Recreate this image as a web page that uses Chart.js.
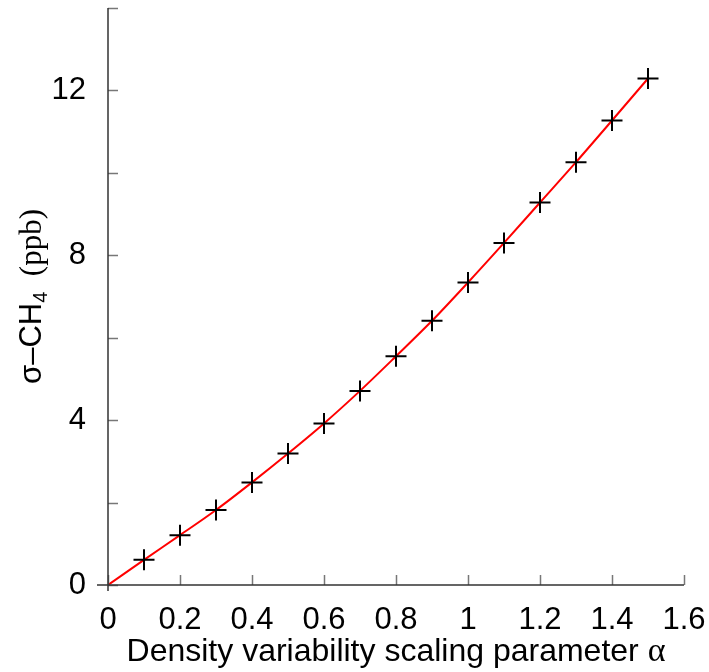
<!DOCTYPE html>
<html>
<head>
<meta charset="utf-8">
<script src="https://cdn.jsdelivr.net/npm/chart.js@4.4.1/dist/chart.umd.min.js"></script>
<style>
  html, body { margin: 0; padding: 0; background: #fff; }
  #wrap { width: 709px; height: 672px; }
</style>
</head>
<body>
<div id="wrap"><canvas id="sigmaChart" width="709" height="672"></canvas></div>
<script>
// density variability scaling parameter (x) and sigma-CH4 in ppb (y)
const alphaVals = [0.1, 0.2, 0.3, 0.4, 0.5, 0.6, 0.7, 0.8, 0.9, 1.0, 1.1, 1.2, 1.3, 1.4, 1.5];
const sigmaCH4 = [0.61, 1.21, 1.82, 2.49, 3.19, 3.92, 4.71, 5.55, 6.41, 7.34, 8.30, 9.28, 10.26, 11.27, 12.29];
// red curve, starts at the origin
const fitAlpha = [0, 0.1, 0.2, 0.3, 0.4, 0.5, 0.6, 0.7, 0.8, 0.9, 1.0, 1.1, 1.2, 1.3, 1.4, 1.5];
const fitSigma = [0, 0.61, 1.21, 1.82, 2.49, 3.19, 3.92, 4.71, 5.55, 6.41, 7.34, 8.30, 9.28, 10.26, 11.27, 12.29];
const xTicks = { min: 0, max: 1.6, step: 0.2 };
const yTicks = { min: 0, max: 14, step: 2, labelEvery: 4 };

const SANS = '"Liberation Sans", Arial, sans-serif';
const SERIF = '"Liberation Serif", "Times New Roman", serif';

// axes with inward ticks + the two axis titles
const axesPlugin = {
    id: 'axesPlugin',
    afterDraw(chart) {
        const ctx = chart.ctx; const a = chart.chartArea;
        const xs = chart.scales.x; const ys = chart.scales.y;
        ctx.save();
        ctx.lineCap = 'butt';
        // ticks
        ctx.strokeStyle = '#777'; ctx.lineWidth = 1.5;
        ys.ticks.forEach(t => {
            const py = Math.round(ys.getPixelForValue(t.value)) + 0.5;
            ctx.beginPath(); ctx.moveTo(a.left, py); ctx.lineTo(a.left + 10, py); ctx.stroke();
        });
        xs.ticks.forEach(t => {
            const px = Math.round(xs.getPixelForValue(t.value)) + 0.5;
            ctx.beginPath(); ctx.moveTo(px, a.bottom); ctx.lineTo(px, a.bottom - 10); ctx.stroke();
        });
        // axis lines
        ctx.strokeStyle = '#333'; ctx.lineWidth = 1.5;
        ctx.beginPath();
        ctx.moveTo(a.left - 11, a.bottom); ctx.lineTo(a.right, a.bottom);
        ctx.moveTo(a.left, a.top); ctx.lineTo(a.left, a.bottom + 6);
        ctx.stroke();

        // x title
        ctx.fillStyle = '#000'; ctx.textBaseline = 'alphabetic'; ctx.textAlign = 'left';
        const xMain = 'Density variability scaling parameter ';
        ctx.font = '32px ' + SANS; const w1 = ctx.measureText(xMain).width;
        ctx.font = '34px ' + SERIF; const w2 = ctx.measureText('α').width;
        let x0 = (a.left + a.right) / 2 - (w1 + w2) / 2;
        ctx.font = '32px ' + SANS; ctx.fillText(xMain, x0, 661);
        ctx.font = '34px ' + SERIF; ctx.fillText('α', x0 + w1, 661);

        // y title (rotated, mixed fonts, subscript)
        const parts = [
            { t: 'σ–CH', font: '31px ' + SANS, dy: 0 },
            { t: '4', font: '20px ' + SANS, dy: 6 },
            { t: '  (ppb)', font: '31px ' + SERIF, dy: 0 }
        ];
        let total = 0;
        parts.forEach(p => { ctx.font = p.font; p.w = ctx.measureText(p.t).width; total += p.w; });
        ctx.translate(41, (a.top + a.bottom) / 2);
        ctx.rotate(-Math.PI / 2);
        let cx = -total / 2;
        parts.forEach(p => { ctx.font = p.font; ctx.fillText(p.t, cx, p.dy); cx += p.w; });
        ctx.restore();
    }
};

new Chart(document.getElementById('sigmaChart').getContext('2d'), {
    type: 'scatter',
    data: {
        datasets: [
            {
                type: 'line',
                data: fitAlpha.map((x, i) => ({ x: x, y: fitSigma[i] })),
                borderColor: '#ff0000', borderWidth: 2, pointRadius: 0,
                cubicInterpolationMode: 'monotone', fill: false, order: 2
            },
            {
                data: alphaVals.map((x, i) => ({ x: x, y: sigmaCH4[i] })),
                pointStyle: 'cross', pointRadius: 10.5, borderColor: '#000', borderWidth: 2,
                backgroundColor: '#000', order: 1
            }
        ]
    },
    options: {
        responsive: false, animation: false,
        layout: { autoPadding: false, padding: { left: 0, top: 8, right: 25, bottom: 0 } },
        plugins: { legend: { display: false }, tooltip: { enabled: false } },
        scales: {
            x: {
                type: 'linear', min: xTicks.min, max: xTicks.max,
                grid: { display: false }, border: { display: false },
                ticks: {
                    stepSize: xTicks.step, color: '#000', padding: 9,
                    font: { family: SANS, size: 31 },
                    callback: v => String(Number(v.toFixed(1)))
                },
                afterFit: s => { s.height = 87; s.paddingLeft = 0; s.paddingRight = 0; }
            },
            y: {
                min: yTicks.min, max: yTicks.max,
                grid: { display: false }, border: { display: false },
                ticks: {
                    stepSize: yTicks.step, color: '#000', padding: 14,
                    font: { family: SANS, size: 31 },
                    callback: v => (Math.round(v) % yTicks.labelEvery === 0 ? String(Math.round(v)) : '')
                },
                afterFit: s => { s.width = 108; s.paddingTop = 0; s.paddingBottom = 0; }
            }
        }
    },
    plugins: [axesPlugin]
});
</script>
</body>
</html>
